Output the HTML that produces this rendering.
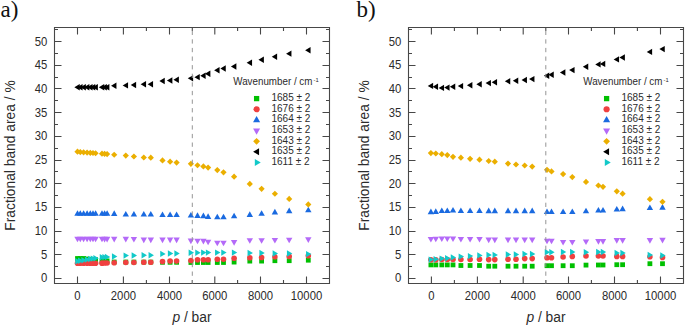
<!DOCTYPE html>
<html><head><meta charset="utf-8"><title>Fractional band area vs pressure</title>
<style>
html,body{margin:0;padding:0;background:#fff;}
body{width:685px;height:326px;overflow:hidden;}
svg{display:block;}
text{font-family:"Liberation Sans",sans-serif;fill:#2b2b2b;}
.tl{font-size:11.3px;}
.at{font-size:13.8px;}
.lg{font-size:10px;}
.pl{font-family:"Liberation Serif",serif;font-size:23px;fill:#111;}
</style></head>
<body>
<svg width="685" height="326" viewBox="0 0 685 326">
<rect width="685" height="326" fill="#fff"/>
<rect x="75.1" y="256.1" width="4.8" height="4.8" fill="#00c000"/><rect x="77.9" y="256.1" width="4.8" height="4.8" fill="#00c000"/><rect x="81.2" y="256.1" width="4.8" height="4.8" fill="#00c000"/><rect x="84.7" y="256.61" width="4.8" height="4.8" fill="#00c000"/><rect x="87.9" y="256.85" width="4.8" height="4.8" fill="#00c000"/><rect x="90.6" y="257.05" width="4.8" height="4.8" fill="#00c000"/><rect x="93.2" y="257.31" width="4.8" height="4.8" fill="#00c000"/><rect x="99.6" y="258.4" width="4.8" height="4.8" fill="#00c000"/><rect x="102.2" y="258.4" width="4.8" height="4.8" fill="#00c000"/><rect x="104.7" y="258.48" width="4.8" height="4.8" fill="#00c000"/><rect x="111.8" y="259.6" width="4.8" height="4.8" fill="#00c000"/><rect x="123.4" y="259.63" width="4.8" height="4.8" fill="#00c000"/><rect x="131.5" y="259.65" width="4.8" height="4.8" fill="#00c000"/><rect x="141.4" y="259.68" width="4.8" height="4.8" fill="#00c000"/><rect x="148.4" y="259.7" width="4.8" height="4.8" fill="#00c000"/><rect x="160.1" y="259.9" width="4.8" height="4.8" fill="#00c000"/><rect x="167.7" y="259.9" width="4.8" height="4.8" fill="#00c000"/><rect x="174.2" y="259.9" width="4.8" height="4.8" fill="#00c000"/><rect x="188.5" y="260.1" width="4.8" height="4.8" fill="#00c000"/><rect x="195.1" y="260.1" width="4.8" height="4.8" fill="#00c000"/><rect x="201" y="260.1" width="4.8" height="4.8" fill="#00c000"/><rect x="205.7" y="260.1" width="4.8" height="4.8" fill="#00c000"/><rect x="214.9" y="260.1" width="4.8" height="4.8" fill="#00c000"/><rect x="221.1" y="260.09" width="4.8" height="4.8" fill="#00c000"/><rect x="231.7" y="259.68" width="4.8" height="4.8" fill="#00c000"/><rect x="247.4" y="258.7" width="4.8" height="4.8" fill="#00c000"/><rect x="259.2" y="258.69" width="4.8" height="4.8" fill="#00c000"/><rect x="272.5" y="258.3" width="4.8" height="4.8" fill="#00c000"/><rect x="286.8" y="258.29" width="4.8" height="4.8" fill="#00c000"/><rect x="305.9" y="257.8" width="4.8" height="4.8" fill="#00c000"/><circle cx="77.5" cy="263.3" r="2.8" fill="#f04040"/><circle cx="80.3" cy="263.3" r="2.8" fill="#f04040"/><circle cx="83.6" cy="263.3" r="2.8" fill="#f04040"/><circle cx="87.1" cy="263.3" r="2.8" fill="#f04040"/><circle cx="90.3" cy="263.3" r="2.8" fill="#f04040"/><circle cx="93" cy="263.3" r="2.8" fill="#f04040"/><circle cx="95.6" cy="263.3" r="2.8" fill="#f04040"/><circle cx="102" cy="263.14" r="2.8" fill="#f04040"/><circle cx="104.6" cy="263.07" r="2.8" fill="#f04040"/><circle cx="107.1" cy="263" r="2.8" fill="#f04040"/><circle cx="114.2" cy="262.69" r="2.8" fill="#f04040"/><circle cx="125.8" cy="262.5" r="2.8" fill="#f04040"/><circle cx="133.9" cy="262.5" r="2.8" fill="#f04040"/><circle cx="143.8" cy="262.3" r="2.8" fill="#f04040"/><circle cx="150.8" cy="262.29" r="2.8" fill="#f04040"/><circle cx="162.5" cy="261.48" r="2.8" fill="#f04040"/><circle cx="170.1" cy="261.1" r="2.8" fill="#f04040"/><circle cx="176.6" cy="261.09" r="2.8" fill="#f04040"/><circle cx="190.9" cy="260.56" r="2.8" fill="#f04040"/><circle cx="197.5" cy="259.8" r="2.8" fill="#f04040"/><circle cx="203.4" cy="259.8" r="2.8" fill="#f04040"/><circle cx="208.1" cy="259.78" r="2.8" fill="#f04040"/><circle cx="217.3" cy="259.2" r="2.8" fill="#f04040"/><circle cx="223.5" cy="259.18" r="2.8" fill="#f04040"/><circle cx="234.1" cy="258.29" r="2.8" fill="#f04040"/><circle cx="249.8" cy="257.7" r="2.8" fill="#f04040"/><circle cx="261.6" cy="257.49" r="2.8" fill="#f04040"/><circle cx="274.9" cy="256.79" r="2.8" fill="#f04040"/><circle cx="289.2" cy="256.39" r="2.8" fill="#f04040"/><circle cx="308.3" cy="255.8" r="2.8" fill="#f04040"/><path d="M74.3 215.8L77.5 210.2L80.7 215.8Z" fill="#1a6ae0"/><path d="M77.1 215.8L80.3 210.2L83.5 215.8Z" fill="#1a6ae0"/><path d="M80.4 215.8L83.6 210.2L86.8 215.8Z" fill="#1a6ae0"/><path d="M83.9 215.8L87.1 210.2L90.3 215.8Z" fill="#1a6ae0"/><path d="M87.1 215.8L90.3 210.2L93.5 215.8Z" fill="#1a6ae0"/><path d="M89.8 215.8L93 210.2L96.2 215.8Z" fill="#1a6ae0"/><path d="M92.4 215.8L95.6 210.2L98.8 215.8Z" fill="#1a6ae0"/><path d="M98.8 215.8L102 210.2L105.2 215.8Z" fill="#1a6ae0"/><path d="M101.4 215.8L104.6 210.2L107.8 215.8Z" fill="#1a6ae0"/><path d="M103.9 215.8L107.1 210.2L110.3 215.8Z" fill="#1a6ae0"/><path d="M111 215.92L114.2 210.32L117.4 215.92Z" fill="#1a6ae0"/><path d="M122.6 216.5L125.8 210.9L129 216.5Z" fill="#1a6ae0"/><path d="M130.7 216.5L133.9 210.9L137.1 216.5Z" fill="#1a6ae0"/><path d="M140.6 216.5L143.8 210.9L147 216.5Z" fill="#1a6ae0"/><path d="M147.6 216.51L150.8 210.91L154 216.51Z" fill="#1a6ae0"/><path d="M159.3 217.1L162.5 211.5L165.7 217.1Z" fill="#1a6ae0"/><path d="M166.9 217.1L170.1 211.5L173.3 217.1Z" fill="#1a6ae0"/><path d="M173.4 217.11L176.6 211.51L179.8 217.11Z" fill="#1a6ae0"/><path d="M187.7 217.52L190.9 211.92L194.1 217.52Z" fill="#1a6ae0"/><path d="M194.3 217.91L197.5 212.31L200.7 217.91Z" fill="#1a6ae0"/><path d="M200.2 218.15L203.4 212.55L206.6 218.15Z" fill="#1a6ae0"/><path d="M204.9 218.91L208.1 213.31L211.3 218.91Z" fill="#1a6ae0"/><path d="M214.1 219.3L217.3 213.7L220.5 219.3Z" fill="#1a6ae0"/><path d="M220.3 219.28L223.5 213.68L226.7 219.28Z" fill="#1a6ae0"/><path d="M230.9 218.37L234.1 212.77L237.3 218.37Z" fill="#1a6ae0"/><path d="M246.6 216.88L249.8 211.28L253 216.88Z" fill="#1a6ae0"/><path d="M258.4 215.78L261.6 210.18L264.8 215.78Z" fill="#1a6ae0"/><path d="M271.7 214.38L274.9 208.78L278.1 214.38Z" fill="#1a6ae0"/><path d="M286 213.19L289.2 207.59L292.4 213.19Z" fill="#1a6ae0"/><path d="M305.1 212.3L308.3 206.7L311.5 212.3Z" fill="#1a6ae0"/><path d="M74.3 236.7L77.5 242.3L80.7 236.7Z" fill="#b46af8"/><path d="M77.1 236.71L80.3 242.31L83.5 236.71Z" fill="#b46af8"/><path d="M80.4 236.72L83.6 242.32L86.8 236.72Z" fill="#b46af8"/><path d="M83.9 236.73L87.1 242.33L90.3 236.73Z" fill="#b46af8"/><path d="M87.1 236.74L90.3 242.34L93.5 236.74Z" fill="#b46af8"/><path d="M89.8 236.74L93 242.34L96.2 236.74Z" fill="#b46af8"/><path d="M92.4 236.75L95.6 242.35L98.8 236.75Z" fill="#b46af8"/><path d="M98.8 236.77L102 242.37L105.2 236.77Z" fill="#b46af8"/><path d="M101.4 236.77L104.6 242.38L107.8 236.77Z" fill="#b46af8"/><path d="M103.9 236.78L107.1 242.38L110.3 236.78Z" fill="#b46af8"/><path d="M111 236.8L114.2 242.4L117.4 236.8Z" fill="#b46af8"/><path d="M122.6 236.86L125.8 242.46L129 236.86Z" fill="#b46af8"/><path d="M130.7 236.91L133.9 242.51L137.1 236.91Z" fill="#b46af8"/><path d="M140.6 237.6L143.8 243.2L147 237.6Z" fill="#b46af8"/><path d="M147.6 237.6L150.8 243.2L154 237.6Z" fill="#b46af8"/><path d="M159.3 237.6L162.5 243.2L165.7 237.6Z" fill="#b46af8"/><path d="M166.9 237.6L170.1 243.2L173.3 237.6Z" fill="#b46af8"/><path d="M173.4 237.61L176.6 243.21L179.8 237.61Z" fill="#b46af8"/><path d="M187.7 238.6L190.9 244.2L194.1 238.6Z" fill="#b46af8"/><path d="M194.3 238.71L197.5 244.31L200.7 238.71Z" fill="#b46af8"/><path d="M200.2 238.85L203.4 244.45L206.6 238.85Z" fill="#b46af8"/><path d="M204.9 239.64L208.1 245.24L211.3 239.64Z" fill="#b46af8"/><path d="M214.1 240.7L217.3 246.3L220.5 240.7Z" fill="#b46af8"/><path d="M220.3 240.69L223.5 246.29L226.7 240.69Z" fill="#b46af8"/><path d="M230.9 240.06L234.1 245.66L237.3 240.06Z" fill="#b46af8"/><path d="M246.6 238.2L249.8 243.8L253 238.2Z" fill="#b46af8"/><path d="M258.4 238.2L261.6 243.8L264.8 238.2Z" fill="#b46af8"/><path d="M271.7 237.9L274.9 243.5L278.1 237.9Z" fill="#b46af8"/><path d="M286 237.7L289.2 243.3L292.4 237.7Z" fill="#b46af8"/><path d="M305.1 237.3L308.3 242.9L311.5 237.3Z" fill="#b46af8"/><path d="M77.5 148.57L80.6 151.67L77.5 154.77L74.4 151.67Z" fill="#ebaf00"/><path d="M80.3 148.93L83.4 152.03L80.3 155.13L77.2 152.03Z" fill="#ebaf00"/><path d="M83.6 149.25L86.7 152.34L83.6 155.44L80.5 152.34Z" fill="#ebaf00"/><path d="M87.1 149.51L90.2 152.61L87.1 155.71L84 152.61Z" fill="#ebaf00"/><path d="M90.3 149.72L93.4 152.82L90.3 155.92L87.2 152.82Z" fill="#ebaf00"/><path d="M93 149.9L96.1 153L93 156.1L89.9 153Z" fill="#ebaf00"/><path d="M95.6 150.14L98.7 153.24L95.6 156.34L92.5 153.24Z" fill="#ebaf00"/><path d="M102 150.53L105.1 153.63L102 156.73L98.9 153.63Z" fill="#ebaf00"/><path d="M104.6 150.73L107.7 153.83L104.6 156.93L101.5 153.83Z" fill="#ebaf00"/><path d="M107.1 150.95L110.2 154.05L107.1 157.15L104 154.05Z" fill="#ebaf00"/><path d="M114.2 151.63L117.3 154.73L114.2 157.83L111.1 154.73Z" fill="#ebaf00"/><path d="M125.8 152.52L128.9 155.62L125.8 158.72L122.7 155.62Z" fill="#ebaf00"/><path d="M133.9 153.42L137 156.52L133.9 159.62L130.8 156.52Z" fill="#ebaf00"/><path d="M143.8 154.41L146.9 157.51L143.8 160.61L140.7 157.51Z" fill="#ebaf00"/><path d="M150.8 154.62L153.9 157.72L150.8 160.82L147.7 157.72Z" fill="#ebaf00"/><path d="M162.5 157.36L165.6 160.46L162.5 163.56L159.4 160.46Z" fill="#ebaf00"/><path d="M170.1 158.55L173.2 161.65L170.1 164.75L167 161.65Z" fill="#ebaf00"/><path d="M176.6 159.52L179.7 162.62L176.6 165.72L173.5 162.62Z" fill="#ebaf00"/><path d="M190.9 160.76L194 163.86L190.9 166.96L187.8 163.86Z" fill="#ebaf00"/><path d="M197.5 162.14L200.6 165.24L197.5 168.34L194.4 165.24Z" fill="#ebaf00"/><path d="M203.4 163.37L206.5 166.47L203.4 169.57L200.3 166.47Z" fill="#ebaf00"/><path d="M208.1 164.48L211.2 167.58L208.1 170.68L205 167.58Z" fill="#ebaf00"/><path d="M217.3 166.97L220.4 170.07L217.3 173.17L214.2 170.07Z" fill="#ebaf00"/><path d="M223.5 169.18L226.6 172.28L223.5 175.38L220.4 172.28Z" fill="#ebaf00"/><path d="M234.1 173.54L237.2 176.64L234.1 179.74L231 176.64Z" fill="#ebaf00"/><path d="M249.8 180.78L252.9 183.88L249.8 186.98L246.7 183.88Z" fill="#ebaf00"/><path d="M261.6 185.77L264.7 188.87L261.6 191.97L258.5 188.87Z" fill="#ebaf00"/><path d="M274.9 190.67L278 193.77L274.9 196.87L271.8 193.77Z" fill="#ebaf00"/><path d="M289.2 195.86L292.3 198.96L289.2 202.06L286.1 198.96Z" fill="#ebaf00"/><path d="M308.3 201.3L311.4 204.4L308.3 207.5L305.2 204.4Z" fill="#ebaf00"/><path d="M74.35 87.3L79.75 84.1L79.75 90.5Z" fill="#000"/><path d="M77.15 87.29L82.55 84.09L82.55 90.49Z" fill="#000"/><path d="M80.45 87.28L85.85 84.08L85.85 90.48Z" fill="#000"/><path d="M83.95 87.27L89.35 84.07L89.35 90.47Z" fill="#000"/><path d="M87.15 87.26L92.55 84.06L92.55 90.46Z" fill="#000"/><path d="M89.85 87.25L95.25 84.05L95.25 90.45Z" fill="#000"/><path d="M92.45 87.24L97.85 84.04L97.85 90.44Z" fill="#000"/><path d="M98.85 87.22L104.25 84.02L104.25 90.42Z" fill="#000"/><path d="M101.45 87.21L106.85 84.01L106.85 90.41Z" fill="#000"/><path d="M103.95 87.18L109.35 83.98L109.35 90.38Z" fill="#000"/><path d="M111.05 85.79L116.45 82.59L116.45 88.99Z" fill="#000"/><path d="M122.65 85.39L128.05 82.19L128.05 88.59Z" fill="#000"/><path d="M130.75 84.99L136.15 81.79L136.15 88.19Z" fill="#000"/><path d="M140.65 84.3L146.05 81.1L146.05 87.5Z" fill="#000"/><path d="M147.65 84.27L153.05 81.07L153.05 87.47Z" fill="#000"/><path d="M159.35 80.97L164.75 77.77L164.75 84.17Z" fill="#000"/><path d="M166.95 80.47L172.35 77.27L172.35 83.67Z" fill="#000"/><path d="M173.45 79.78L178.85 76.58L178.85 82.98Z" fill="#000"/><path d="M187.75 78.35L193.15 75.15L193.15 81.55Z" fill="#000"/><path d="M194.35 77.16L199.75 73.96L199.75 80.36Z" fill="#000"/><path d="M200.25 75.77L205.65 72.57L205.65 78.97Z" fill="#000"/><path d="M204.95 73.69L210.35 70.49L210.35 76.89Z" fill="#000"/><path d="M214.15 70.25L219.55 67.05L219.55 73.45Z" fill="#000"/><path d="M220.35 68.56L225.75 65.36L225.75 71.76Z" fill="#000"/><path d="M230.95 66.53L236.35 63.33L236.35 69.73Z" fill="#000"/><path d="M246.65 62.75L252.05 59.55L252.05 65.95Z" fill="#000"/><path d="M258.45 59.75L263.85 56.55L263.85 62.95Z" fill="#000"/><path d="M271.75 56.76L277.15 53.56L277.15 59.96Z" fill="#000"/><path d="M286.05 53.66L291.45 50.46L291.45 56.86Z" fill="#000"/><path d="M305.15 50.2L310.55 47L310.55 53.4Z" fill="#000"/><path d="M80.65 261.3L75.25 258.1L75.25 264.5Z" fill="#12c9c9"/><path d="M83.45 260.8L78.05 257.6L78.05 264Z" fill="#12c9c9"/><path d="M86.75 260.2L81.35 257L81.35 263.4Z" fill="#12c9c9"/><path d="M90.25 259.6L84.85 256.4L84.85 262.8Z" fill="#12c9c9"/><path d="M93.45 259L88.05 255.8L88.05 262.2Z" fill="#12c9c9"/><path d="M96.15 258.6L90.75 255.4L90.75 261.8Z" fill="#12c9c9"/><path d="M98.75 258.3L93.35 255.1L93.35 261.5Z" fill="#12c9c9"/><path d="M105.15 257.28L99.75 254.08L99.75 260.48Z" fill="#12c9c9"/><path d="M107.75 257.12L102.35 253.92L102.35 260.32Z" fill="#12c9c9"/><path d="M110.25 256.97L104.85 253.77L104.85 260.17Z" fill="#12c9c9"/><path d="M117.35 256.47L111.95 253.27L111.95 259.67Z" fill="#12c9c9"/><path d="M128.95 255.6L123.55 252.4L123.55 258.8Z" fill="#12c9c9"/><path d="M137.05 255.49L131.65 252.29L131.65 258.69Z" fill="#12c9c9"/><path d="M146.95 255.2L141.55 252L141.55 258.4Z" fill="#12c9c9"/><path d="M153.95 255.19L148.55 251.99L148.55 258.39Z" fill="#12c9c9"/><path d="M165.65 253.88L160.25 250.68L160.25 257.08Z" fill="#12c9c9"/><path d="M173.25 253.5L167.85 250.3L167.85 256.7Z" fill="#12c9c9"/><path d="M179.75 253.49L174.35 250.29L174.35 256.69Z" fill="#12c9c9"/><path d="M194.05 252.8L188.65 249.6L188.65 256Z" fill="#12c9c9"/><path d="M200.65 252.7L195.25 249.5L195.25 255.9Z" fill="#12c9c9"/><path d="M206.55 252.6L201.15 249.4L201.15 255.8Z" fill="#12c9c9"/><path d="M211.25 252.6L205.85 249.4L205.85 255.8Z" fill="#12c9c9"/><path d="M220.45 252.6L215.05 249.4L215.05 255.8Z" fill="#12c9c9"/><path d="M226.65 252.6L221.25 249.4L221.25 255.8Z" fill="#12c9c9"/><path d="M237.25 252.61L231.85 249.41L231.85 255.81Z" fill="#12c9c9"/><path d="M252.95 253L247.55 249.8L247.55 256.2Z" fill="#12c9c9"/><path d="M264.75 253.01L259.35 249.81L259.35 256.21Z" fill="#12c9c9"/><path d="M278.05 253.5L272.65 250.3L272.65 256.7Z" fill="#12c9c9"/><path d="M292.35 253.51L286.95 250.31L286.95 256.71Z" fill="#12c9c9"/><path d="M311.45 254.1L306.05 250.9L306.05 257.3Z" fill="#12c9c9"/><path d="M54.5 27.5H329.5V283.5H54.5ZM77.5 283.5v-7M77.5 27.5v7M100.5 283.5v-3.5M100.5 27.5v3.5M123.4 283.5v-7M123.4 27.5v7M146.4 283.5v-3.5M146.4 27.5v3.5M169.5 283.5v-7M169.5 27.5v7M192.3 283.5v-3.5M192.3 27.5v3.5M214.8 283.5v-7M214.8 27.5v7M237.6 283.5v-3.5M237.6 27.5v3.5M260.5 283.5v-7M260.5 27.5v7M283.5 283.5v-3.5M283.5 27.5v3.5M306.5 283.5v-7M306.5 27.5v7M54.5 278.5h7M329.5 278.5h-7M54.5 266.5h3.5M329.5 266.5h-3.5M54.5 254.5h7M329.5 254.5h-7M54.5 242.5h3.5M329.5 242.5h-3.5M54.5 231.5h7M329.5 231.5h-7M54.5 219.5h3.5M329.5 219.5h-3.5M54.5 207.5h7M329.5 207.5h-7M54.5 195.5h3.5M329.5 195.5h-3.5M54.5 183.5h7M329.5 183.5h-7M54.5 171.5h3.5M329.5 171.5h-3.5M54.5 160.5h7M329.5 160.5h-7M54.5 148.5h3.5M329.5 148.5h-3.5M54.5 136.5h7M329.5 136.5h-7M54.5 124.5h3.5M329.5 124.5h-3.5M54.5 112.5h7M329.5 112.5h-7M54.5 100.5h3.5M329.5 100.5h-3.5M54.5 88.5h7M329.5 88.5h-7M54.5 77.5h3.5M329.5 77.5h-3.5M54.5 65.5h7M329.5 65.5h-7M54.5 53.5h3.5M329.5 53.5h-3.5M54.5 41.5h7M329.5 41.5h-7M54.5 29.5h3.5M329.5 29.5h-3.5" stroke="#474747" stroke-width="1.1" fill="none"/><path d="M192.3 27.5V283.5" stroke="#959595" stroke-width="1" stroke-dasharray="4.3 4.3" stroke-dashoffset="5.4" fill="none"/><text transform="translate(47.3 282.4) scale(1 1.07)" text-anchor="end" class="tl">0</text><text transform="translate(47.3 258.71) scale(1 1.07)" text-anchor="end" class="tl">5</text><text transform="translate(47.3 235.02) scale(1 1.07)" text-anchor="end" class="tl">10</text><text transform="translate(47.3 211.33) scale(1 1.07)" text-anchor="end" class="tl">15</text><text transform="translate(47.3 187.64) scale(1 1.07)" text-anchor="end" class="tl">20</text><text transform="translate(47.3 163.95) scale(1 1.07)" text-anchor="end" class="tl">25</text><text transform="translate(47.3 140.26) scale(1 1.07)" text-anchor="end" class="tl">30</text><text transform="translate(47.3 116.57) scale(1 1.07)" text-anchor="end" class="tl">35</text><text transform="translate(47.3 92.88) scale(1 1.07)" text-anchor="end" class="tl">40</text><text transform="translate(47.3 69.19) scale(1 1.07)" text-anchor="end" class="tl">45</text><text transform="translate(47.3 45.5) scale(1 1.07)" text-anchor="end" class="tl">50</text><text transform="translate(77.5 299.7) scale(1 1.07)" text-anchor="middle" class="tl">0</text><text transform="translate(123.4 299.7) scale(1 1.07)" text-anchor="middle" class="tl">2000</text><text transform="translate(169.5 299.7) scale(1 1.07)" text-anchor="middle" class="tl">4000</text><text transform="translate(214.8 299.7) scale(1 1.07)" text-anchor="middle" class="tl">6000</text><text transform="translate(260.5 299.7) scale(1 1.07)" text-anchor="middle" class="tl">8000</text><text transform="translate(306.5 299.7) scale(1 1.07)" text-anchor="middle" class="tl">10000</text><text x="192" y="321.8" text-anchor="middle" class="at"><tspan font-style="italic">p</tspan> / bar</text><text transform="translate(14.9 155.5) rotate(-90)" text-anchor="middle" class="at">Fractional band area / %</text><text transform="translate(233.3 84.5) scale(0.98 1)" class="lg" font-size="9.75">Wavenumber / cm<tspan font-size="6" dx="1.2" dy="-2.2">-1</tspan></text><rect x="253.96" y="95.96" width="5.28" height="5.28" fill="#00c000"/><text x="271.5" y="101" class="lg">1685 ± 2</text><circle cx="256.6" cy="109.23" r="3.08" fill="#f04040"/><text x="271.5" y="111.63" class="lg">1676 ± 2</text><path d="M253.08 122.14L256.6 115.98L260.12 122.14Z" fill="#1a6ae0"/><text x="271.5" y="122.26" class="lg">1664 ± 2</text><path d="M253.08 128.61L256.6 134.77L260.12 128.61Z" fill="#b46af8"/><text x="271.5" y="132.89" class="lg">1653 ± 2</text><path d="M256.6 137.91L260.01 141.32L256.6 144.73L253.19 141.32Z" fill="#ebaf00"/><text x="271.5" y="143.52" class="lg">1643 ± 2</text><path d="M253.13 151.75L259.07 148.23L259.07 155.27Z" fill="#000"/><text x="271.5" y="154.15" class="lg">1635 ± 2</text><path d="M260.77 162.58L254.83 159.06L254.83 166.1Z" fill="#12c9c9"/><text x="271.5" y="164.78" class="lg">1611 ± 2</text>
<rect x="428.5" y="262.5" width="4.8" height="4.8" fill="#00c000"/><rect x="433.4" y="262.5" width="4.8" height="4.8" fill="#00c000"/><rect x="439.4" y="262.5" width="4.8" height="4.8" fill="#00c000"/><rect x="444.9" y="262.5" width="4.8" height="4.8" fill="#00c000"/><rect x="450.6" y="262.5" width="4.8" height="4.8" fill="#00c000"/><rect x="458.5" y="263.1" width="4.8" height="4.8" fill="#00c000"/><rect x="467.7" y="263.1" width="4.8" height="4.8" fill="#00c000"/><rect x="477.1" y="263.1" width="4.8" height="4.8" fill="#00c000"/><rect x="486.3" y="263.8" width="4.8" height="4.8" fill="#00c000"/><rect x="492.4" y="263.8" width="4.8" height="4.8" fill="#00c000"/><rect x="505.6" y="263.8" width="4.8" height="4.8" fill="#00c000"/><rect x="513.6" y="263.8" width="4.8" height="4.8" fill="#00c000"/><rect x="522.3" y="263.8" width="4.8" height="4.8" fill="#00c000"/><rect x="529.8" y="263.8" width="4.8" height="4.8" fill="#00c000"/><rect x="544.6" y="263.3" width="4.8" height="4.8" fill="#00c000"/><rect x="549.1" y="263.3" width="4.8" height="4.8" fill="#00c000"/><rect x="560.7" y="263.3" width="4.8" height="4.8" fill="#00c000"/><rect x="569.9" y="263.3" width="4.8" height="4.8" fill="#00c000"/><rect x="583.6" y="262.7" width="4.8" height="4.8" fill="#00c000"/><rect x="596" y="262.6" width="4.8" height="4.8" fill="#00c000"/><rect x="600.6" y="262.6" width="4.8" height="4.8" fill="#00c000"/><rect x="614.4" y="262.3" width="4.8" height="4.8" fill="#00c000"/><rect x="620.2" y="262.3" width="4.8" height="4.8" fill="#00c000"/><rect x="647.5" y="261.3" width="4.8" height="4.8" fill="#00c000"/><rect x="660.1" y="261.3" width="4.8" height="4.8" fill="#00c000"/><circle cx="430.9" cy="259.8" r="2.8" fill="#f04040"/><circle cx="435.8" cy="259.7" r="2.8" fill="#f04040"/><circle cx="441.8" cy="259.5" r="2.8" fill="#f04040"/><circle cx="447.3" cy="259.5" r="2.8" fill="#f04040"/><circle cx="453" cy="259.5" r="2.8" fill="#f04040"/><circle cx="460.9" cy="259.5" r="2.8" fill="#f04040"/><circle cx="470.1" cy="259.5" r="2.8" fill="#f04040"/><circle cx="479.5" cy="259.2" r="2.8" fill="#f04040"/><circle cx="488.7" cy="259.6" r="2.8" fill="#f04040"/><circle cx="494.8" cy="259.6" r="2.8" fill="#f04040"/><circle cx="508" cy="259.2" r="2.8" fill="#f04040"/><circle cx="516" cy="259.2" r="2.8" fill="#f04040"/><circle cx="524.7" cy="258.6" r="2.8" fill="#f04040"/><circle cx="532.2" cy="258.6" r="2.8" fill="#f04040"/><circle cx="547" cy="257.8" r="2.8" fill="#f04040"/><circle cx="551.5" cy="257.8" r="2.8" fill="#f04040"/><circle cx="563.1" cy="257" r="2.8" fill="#f04040"/><circle cx="572.3" cy="256.4" r="2.8" fill="#f04040"/><circle cx="586" cy="256" r="2.8" fill="#f04040"/><circle cx="598.4" cy="256" r="2.8" fill="#f04040"/><circle cx="603" cy="256" r="2.8" fill="#f04040"/><circle cx="616.8" cy="256.4" r="2.8" fill="#f04040"/><circle cx="622.6" cy="256.4" r="2.8" fill="#f04040"/><circle cx="649.9" cy="256.7" r="2.8" fill="#f04040"/><circle cx="662.5" cy="257.4" r="2.8" fill="#f04040"/><path d="M427.7 214.2L430.9 208.6L434.1 214.2Z" fill="#1a6ae0"/><path d="M432.6 213.9L435.8 208.3L439 213.9Z" fill="#1a6ae0"/><path d="M438.6 213L441.8 207.4L445 213Z" fill="#1a6ae0"/><path d="M444.1 213L447.3 207.4L450.5 213Z" fill="#1a6ae0"/><path d="M449.8 212.6L453 207L456.2 212.6Z" fill="#1a6ae0"/><path d="M457.7 213L460.9 207.4L464.1 213Z" fill="#1a6ae0"/><path d="M466.9 213L470.1 207.4L473.3 213Z" fill="#1a6ae0"/><path d="M476.3 213L479.5 207.4L482.7 213Z" fill="#1a6ae0"/><path d="M485.5 213.2L488.7 207.6L491.9 213.2Z" fill="#1a6ae0"/><path d="M491.6 213.2L494.8 207.6L498 213.2Z" fill="#1a6ae0"/><path d="M504.8 213.2L508 207.6L511.2 213.2Z" fill="#1a6ae0"/><path d="M512.8 213.2L516 207.6L519.2 213.2Z" fill="#1a6ae0"/><path d="M521.5 213.2L524.7 207.6L527.9 213.2Z" fill="#1a6ae0"/><path d="M529 213.2L532.2 207.6L535.4 213.2Z" fill="#1a6ae0"/><path d="M543.8 214.1L547 208.5L550.2 214.1Z" fill="#1a6ae0"/><path d="M548.3 214.1L551.5 208.5L554.7 214.1Z" fill="#1a6ae0"/><path d="M559.9 214.1L563.1 208.5L566.3 214.1Z" fill="#1a6ae0"/><path d="M569.1 214.1L572.3 208.5L575.5 214.1Z" fill="#1a6ae0"/><path d="M582.8 213.3L586 207.7L589.2 213.3Z" fill="#1a6ae0"/><path d="M595.2 212.6L598.4 207L601.6 212.6Z" fill="#1a6ae0"/><path d="M599.8 212.6L603 207L606.2 212.6Z" fill="#1a6ae0"/><path d="M613.6 211.6L616.8 206L620 211.6Z" fill="#1a6ae0"/><path d="M619.4 211.2L622.6 205.6L625.8 211.2Z" fill="#1a6ae0"/><path d="M646.7 210.1L649.9 204.5L653.1 210.1Z" fill="#1a6ae0"/><path d="M659.3 209.7L662.5 204.1L665.7 209.7Z" fill="#1a6ae0"/><path d="M427.7 236.9L430.9 242.5L434.1 236.9Z" fill="#b46af8"/><path d="M432.6 236.7L435.8 242.3L439 236.7Z" fill="#b46af8"/><path d="M438.6 236.4L441.8 242L445 236.4Z" fill="#b46af8"/><path d="M444.1 236.4L447.3 242L450.5 236.4Z" fill="#b46af8"/><path d="M449.8 236.4L453 242L456.2 236.4Z" fill="#b46af8"/><path d="M457.7 237L460.9 242.6L464.1 237Z" fill="#b46af8"/><path d="M466.9 237L470.1 242.6L473.3 237Z" fill="#b46af8"/><path d="M476.3 237L479.5 242.6L482.7 237Z" fill="#b46af8"/><path d="M485.5 237.6L488.7 243.2L491.9 237.6Z" fill="#b46af8"/><path d="M491.6 237.6L494.8 243.2L498 237.6Z" fill="#b46af8"/><path d="M504.8 237.6L508 243.2L511.2 237.6Z" fill="#b46af8"/><path d="M512.8 237.6L516 243.2L519.2 237.6Z" fill="#b46af8"/><path d="M521.5 237.6L524.7 243.2L527.9 237.6Z" fill="#b46af8"/><path d="M529 237.6L532.2 243.2L535.4 237.6Z" fill="#b46af8"/><path d="M543.8 238.7L547 244.3L550.2 238.7Z" fill="#b46af8"/><path d="M548.3 238.7L551.5 244.3L554.7 238.7Z" fill="#b46af8"/><path d="M559.9 240L563.1 245.6L566.3 240Z" fill="#b46af8"/><path d="M569.1 240L572.3 245.6L575.5 240Z" fill="#b46af8"/><path d="M582.8 239.5L586 245.1L589.2 239.5Z" fill="#b46af8"/><path d="M595.2 239.1L598.4 244.7L601.6 239.1Z" fill="#b46af8"/><path d="M599.8 239.1L603 244.7L606.2 239.1Z" fill="#b46af8"/><path d="M613.6 238.1L616.8 243.7L620 238.1Z" fill="#b46af8"/><path d="M619.4 238.1L622.6 243.7L625.8 238.1Z" fill="#b46af8"/><path d="M646.7 238.1L649.9 243.7L653.1 238.1Z" fill="#b46af8"/><path d="M659.3 237.8L662.5 243.4L665.7 237.8Z" fill="#b46af8"/><path d="M430.9 150L434 153.1L430.9 156.2L427.8 153.1Z" fill="#ebaf00"/><path d="M435.8 150.4L438.9 153.5L435.8 156.6L432.7 153.5Z" fill="#ebaf00"/><path d="M441.8 151.1L444.9 154.2L441.8 157.3L438.7 154.2Z" fill="#ebaf00"/><path d="M447.3 152L450.4 155.1L447.3 158.2L444.2 155.1Z" fill="#ebaf00"/><path d="M453 153.7L456.1 156.8L453 159.9L449.9 156.8Z" fill="#ebaf00"/><path d="M460.9 154.6L464 157.7L460.9 160.8L457.8 157.7Z" fill="#ebaf00"/><path d="M470.1 155.7L473.2 158.8L470.1 161.9L467 158.8Z" fill="#ebaf00"/><path d="M479.5 156.6L482.6 159.7L479.5 162.8L476.4 159.7Z" fill="#ebaf00"/><path d="M488.7 157.9L491.8 161L488.7 164.1L485.6 161Z" fill="#ebaf00"/><path d="M494.8 158.6L497.9 161.7L494.8 164.8L491.7 161.7Z" fill="#ebaf00"/><path d="M508 160.5L511.1 163.6L508 166.7L504.9 163.6Z" fill="#ebaf00"/><path d="M516 161.4L519.1 164.5L516 167.6L512.9 164.5Z" fill="#ebaf00"/><path d="M524.7 162.4L527.8 165.5L524.7 168.6L521.6 165.5Z" fill="#ebaf00"/><path d="M532.2 163.5L535.3 166.6L532.2 169.7L529.1 166.6Z" fill="#ebaf00"/><path d="M547 166.7L550.1 169.8L547 172.9L543.9 169.8Z" fill="#ebaf00"/><path d="M551.5 168.3L554.6 171.4L551.5 174.5L548.4 171.4Z" fill="#ebaf00"/><path d="M563.1 171L566.2 174.1L563.1 177.2L560 174.1Z" fill="#ebaf00"/><path d="M572.3 174L575.4 177.1L572.3 180.2L569.2 177.1Z" fill="#ebaf00"/><path d="M586 178.8L589.1 181.9L586 185L582.9 181.9Z" fill="#ebaf00"/><path d="M598.4 182.4L601.5 185.5L598.4 188.6L595.3 185.5Z" fill="#ebaf00"/><path d="M603 183.7L606.1 186.8L603 189.9L599.9 186.8Z" fill="#ebaf00"/><path d="M616.8 188.2L619.9 191.3L616.8 194.4L613.7 191.3Z" fill="#ebaf00"/><path d="M622.6 190.6L625.7 193.7L622.6 196.8L619.5 193.7Z" fill="#ebaf00"/><path d="M649.9 196.1L653 199.2L649.9 202.3L646.8 199.2Z" fill="#ebaf00"/><path d="M662.5 198.7L665.6 201.8L662.5 204.9L659.4 201.8Z" fill="#ebaf00"/><path d="M427.75 85.9L433.15 82.7L433.15 89.1Z" fill="#000"/><path d="M432.65 86.7L438.05 83.5L438.05 89.9Z" fill="#000"/><path d="M438.65 87.9L444.05 84.7L444.05 91.1Z" fill="#000"/><path d="M444.15 87.6L449.55 84.4L449.55 90.8Z" fill="#000"/><path d="M449.85 86.8L455.25 83.6L455.25 90Z" fill="#000"/><path d="M457.75 86.1L463.15 82.9L463.15 89.3Z" fill="#000"/><path d="M466.95 85.2L472.35 82L472.35 88.4Z" fill="#000"/><path d="M476.35 84.2L481.75 81L481.75 87.4Z" fill="#000"/><path d="M485.55 83.1L490.95 79.9L490.95 86.3Z" fill="#000"/><path d="M491.65 82.3L497.05 79.1L497.05 85.5Z" fill="#000"/><path d="M504.85 81.3L510.25 78.1L510.25 84.5Z" fill="#000"/><path d="M512.85 80.8L518.25 77.6L518.25 84Z" fill="#000"/><path d="M521.55 80L526.95 76.8L526.95 83.2Z" fill="#000"/><path d="M529.05 79.1L534.45 75.9L534.45 82.3Z" fill="#000"/><path d="M543.85 75.8L549.25 72.6L549.25 79Z" fill="#000"/><path d="M548.35 74.7L553.75 71.5L553.75 77.9Z" fill="#000"/><path d="M559.95 72.5L565.35 69.3L565.35 75.7Z" fill="#000"/><path d="M569.15 70.1L574.55 66.9L574.55 73.3Z" fill="#000"/><path d="M582.85 66.8L588.25 63.6L588.25 70Z" fill="#000"/><path d="M595.25 64.4L600.65 61.2L600.65 67.6Z" fill="#000"/><path d="M599.85 63.9L605.25 60.7L605.25 67.1Z" fill="#000"/><path d="M613.65 59.4L619.05 56.2L619.05 62.6Z" fill="#000"/><path d="M619.45 57.5L624.85 54.3L624.85 60.7Z" fill="#000"/><path d="M646.75 51.9L652.15 48.7L652.15 55.1Z" fill="#000"/><path d="M659.35 49.1L664.75 45.9L664.75 52.3Z" fill="#000"/><path d="M434.05 259.6L428.65 256.4L428.65 262.8Z" fill="#12c9c9"/><path d="M438.95 259.3L433.55 256.1L433.55 262.5Z" fill="#12c9c9"/><path d="M444.95 258.6L439.55 255.4L439.55 261.8Z" fill="#12c9c9"/><path d="M450.45 258.3L445.05 255.1L445.05 261.5Z" fill="#12c9c9"/><path d="M456.15 257.4L450.75 254.2L450.75 260.6Z" fill="#12c9c9"/><path d="M464.05 256.6L458.65 253.4L458.65 259.8Z" fill="#12c9c9"/><path d="M473.25 256.1L467.85 252.9L467.85 259.3Z" fill="#12c9c9"/><path d="M482.65 255.4L477.25 252.2L477.25 258.6Z" fill="#12c9c9"/><path d="M491.85 254.9L486.45 251.7L486.45 258.1Z" fill="#12c9c9"/><path d="M497.95 254.9L492.55 251.7L492.55 258.1Z" fill="#12c9c9"/><path d="M511.15 254.5L505.75 251.3L505.75 257.7Z" fill="#12c9c9"/><path d="M519.15 254.5L513.75 251.3L513.75 257.7Z" fill="#12c9c9"/><path d="M527.85 254L522.45 250.8L522.45 257.2Z" fill="#12c9c9"/><path d="M535.35 254L529.95 250.8L529.95 257.2Z" fill="#12c9c9"/><path d="M550.15 252.3L544.75 249.1L544.75 255.5Z" fill="#12c9c9"/><path d="M554.65 252.3L549.25 249.1L549.25 255.5Z" fill="#12c9c9"/><path d="M566.25 252L560.85 248.8L560.85 255.2Z" fill="#12c9c9"/><path d="M575.45 252L570.05 248.8L570.05 255.2Z" fill="#12c9c9"/><path d="M589.15 252.3L583.75 249.1L583.75 255.5Z" fill="#12c9c9"/><path d="M601.55 252L596.15 248.8L596.15 255.2Z" fill="#12c9c9"/><path d="M606.15 252L600.75 248.8L600.75 255.2Z" fill="#12c9c9"/><path d="M619.95 253L614.55 249.8L614.55 256.2Z" fill="#12c9c9"/><path d="M625.75 253L620.35 249.8L620.35 256.2Z" fill="#12c9c9"/><path d="M653.05 254.9L647.65 251.7L647.65 258.1Z" fill="#12c9c9"/><path d="M665.65 255.5L660.25 252.3L660.25 258.7Z" fill="#12c9c9"/><path d="M408.5 27.5H683.5V283.5H408.5ZM431.4 283.5v-7M431.4 27.5v7M454.4 283.5v-3.5M454.4 27.5v3.5M477.4 283.5v-7M477.4 27.5v7M500.4 283.5v-3.5M500.4 27.5v3.5M523.2 283.5v-7M523.2 27.5v7M545.8 283.5v-3.5M545.8 27.5v3.5M568.5 283.5v-7M568.5 27.5v7M591.4 283.5v-3.5M591.4 27.5v3.5M614.5 283.5v-7M614.5 27.5v7M637.4 283.5v-3.5M637.4 27.5v3.5M660.5 283.5v-7M660.5 27.5v7M408.5 278.5h7M683.5 278.5h-7M408.5 266.5h3.5M683.5 266.5h-3.5M408.5 254.5h7M683.5 254.5h-7M408.5 242.5h3.5M683.5 242.5h-3.5M408.5 231.5h7M683.5 231.5h-7M408.5 219.5h3.5M683.5 219.5h-3.5M408.5 207.5h7M683.5 207.5h-7M408.5 195.5h3.5M683.5 195.5h-3.5M408.5 183.5h7M683.5 183.5h-7M408.5 171.5h3.5M683.5 171.5h-3.5M408.5 160.5h7M683.5 160.5h-7M408.5 148.5h3.5M683.5 148.5h-3.5M408.5 136.5h7M683.5 136.5h-7M408.5 124.5h3.5M683.5 124.5h-3.5M408.5 112.5h7M683.5 112.5h-7M408.5 100.5h3.5M683.5 100.5h-3.5M408.5 88.5h7M683.5 88.5h-7M408.5 77.5h3.5M683.5 77.5h-3.5M408.5 65.5h7M683.5 65.5h-7M408.5 53.5h3.5M683.5 53.5h-3.5M408.5 41.5h7M683.5 41.5h-7M408.5 29.5h3.5M683.5 29.5h-3.5" stroke="#474747" stroke-width="1.1" fill="none"/><path d="M545.8 27.5V283.5" stroke="#959595" stroke-width="1" stroke-dasharray="4.3 4.3" stroke-dashoffset="5.4" fill="none"/><text transform="translate(401.3 282.4) scale(1 1.07)" text-anchor="end" class="tl">0</text><text transform="translate(401.3 258.71) scale(1 1.07)" text-anchor="end" class="tl">5</text><text transform="translate(401.3 235.02) scale(1 1.07)" text-anchor="end" class="tl">10</text><text transform="translate(401.3 211.33) scale(1 1.07)" text-anchor="end" class="tl">15</text><text transform="translate(401.3 187.64) scale(1 1.07)" text-anchor="end" class="tl">20</text><text transform="translate(401.3 163.95) scale(1 1.07)" text-anchor="end" class="tl">25</text><text transform="translate(401.3 140.26) scale(1 1.07)" text-anchor="end" class="tl">30</text><text transform="translate(401.3 116.57) scale(1 1.07)" text-anchor="end" class="tl">35</text><text transform="translate(401.3 92.88) scale(1 1.07)" text-anchor="end" class="tl">40</text><text transform="translate(401.3 69.19) scale(1 1.07)" text-anchor="end" class="tl">45</text><text transform="translate(401.3 45.5) scale(1 1.07)" text-anchor="end" class="tl">50</text><text transform="translate(431.4 299.7) scale(1 1.07)" text-anchor="middle" class="tl">0</text><text transform="translate(477.4 299.7) scale(1 1.07)" text-anchor="middle" class="tl">2000</text><text transform="translate(523.2 299.7) scale(1 1.07)" text-anchor="middle" class="tl">4000</text><text transform="translate(568.5 299.7) scale(1 1.07)" text-anchor="middle" class="tl">6000</text><text transform="translate(614.5 299.7) scale(1 1.07)" text-anchor="middle" class="tl">8000</text><text transform="translate(660.5 299.7) scale(1 1.07)" text-anchor="middle" class="tl">10000</text><text x="546" y="321.8" text-anchor="middle" class="at"><tspan font-style="italic">p</tspan> / bar</text><text transform="translate(368.9 155.5) rotate(-90)" text-anchor="middle" class="at">Fractional band area / %</text><text transform="translate(583.3 84.5) scale(0.98 1)" class="lg" font-size="9.75">Wavenumber / cm<tspan font-size="6" dx="1.2" dy="-2.2">-1</tspan></text><rect x="603.96" y="95.96" width="5.28" height="5.28" fill="#00c000"/><text x="621.5" y="101" class="lg">1685 ± 2</text><circle cx="606.6" cy="109.23" r="3.08" fill="#f04040"/><text x="621.5" y="111.63" class="lg">1676 ± 2</text><path d="M603.08 122.14L606.6 115.98L610.12 122.14Z" fill="#1a6ae0"/><text x="621.5" y="122.26" class="lg">1664 ± 2</text><path d="M603.08 128.61L606.6 134.77L610.12 128.61Z" fill="#b46af8"/><text x="621.5" y="132.89" class="lg">1653 ± 2</text><path d="M606.6 137.91L610.01 141.32L606.6 144.73L603.19 141.32Z" fill="#ebaf00"/><text x="621.5" y="143.52" class="lg">1643 ± 2</text><path d="M603.13 151.75L609.07 148.23L609.07 155.27Z" fill="#000"/><text x="621.5" y="154.15" class="lg">1635 ± 2</text><path d="M610.77 162.58L604.83 159.06L604.83 166.1Z" fill="#12c9c9"/><text x="621.5" y="164.78" class="lg">1611 ± 2</text>
<text x="0.5" y="16.9" class="pl">a)</text>
<text x="356.5" y="16.6" class="pl">b)</text>
</svg>
</body></html>
